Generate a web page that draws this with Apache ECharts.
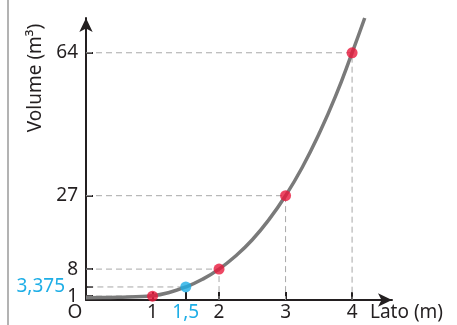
<!DOCTYPE html>
<html>
<head>
<meta charset="utf-8">
<script src="https://cdn.jsdelivr.net/npm/echarts@6/dist/echarts.min.js"></script>
<style>
  html, body { margin: 0; padding: 0; background: #ffffff; }
  #chart { width: 457px; height: 325px; }
</style>
</head>
<body>
<div id="chart"></div>
<script>
// Cube volume as a function of its side length
const curveSides   = [0, 0.25, 0.5, 0.75, 1, 1.25, 1.5, 1.75, 2, 2.25, 2.5, 2.75, 3, 3.25, 3.5, 3.75, 4, 4.19];
const curveVolumes = [0.6, 0.62, 0.7, 0.85, 1.1, 1.95, 3.375, 5.36, 8, 11.4, 15.6, 20.8, 27, 34.3, 42.9, 52.7, 64, 73];

// Marked points (side, volume); the highlighted one is drawn in blue
const pointSides   = [1, 1.5, 2, 3, 4];
const pointVolumes = [1, 3.375, 8, 27, 64];
const highlightSide = 1.5;

// Axis ticks
const xTickValues = [1, 1.5, 2, 3, 4];
const yTickValues = [1, 3.375, 8, 27, 64];

const TEXT = '#231f20';
const BLUE = '#1eaee6';
const RED = '#e8193c';
const FONT = 'Noto Sans';
const FS = 19;

const fmt = v => String(v).replace('.', ',');

const chart = echarts.init(document.getElementById('chart'), null, { renderer: 'canvas' });

// dashed guides from each point to both axes
const guideSeries = pointSides.map((s, i) => {
  const v = pointVolumes[i];
  const startX = s === highlightSide ? -0.28 : 0;
  const data = [[startX, v], [s, v]];
  if (s >= 2) data.push([s, 0]);
  return {
    type: 'line',
    data: data,
    symbol: 'none',
    clip: false,
    silent: true,
    z: 1,
    lineStyle: { color: '#a8a8a8', width: 1, type: [6, 4] }
  };
});

const option = {
  animation: false,
  grid: {
    left: 86, top: 18, width: 306, height: 282,
    outerBoundsMode: 'none', containLabel: false
  },
  xAxis: {
    type: 'value',
    min: 0, max: 4.6,
    name: 'Lato (m)',
    nameLocation: 'end',
    nameGap: -22,
    nameTextStyle: {
      color: TEXT, fontFamily: FONT, fontSize: FS,
      align: 'left', verticalAlign: 'top', padding: [3, 0, 0, 0]
    },
    axisLine: {
      show: true, onZero: false,
      symbol: ['none', 'arrow'], symbolSize: [10, 14],
      lineStyle: { color: TEXT, width: 2 }
    },
    axisTick: { show: true, inside: true, length: 8, customValues: xTickValues,
      lineStyle: { color: TEXT, width: 2 } },
    axisLabel: {
      customValues: [0].concat(xTickValues),
      margin: 3,
      color: TEXT, fontFamily: FONT, fontSize: FS,
      formatter: v => v === 0 ? '{o|O}' : (v === highlightSide ? '{b|' + fmt(v) + '}' : fmt(v)),
      rich: {
        o: { color: TEXT, fontFamily: FONT, fontSize: FS, padding: [0, 22, 0, 0] },
        b: { color: BLUE, fontFamily: FONT, fontSize: FS }
      }
    },
    splitLine: { show: false }
  },
  yAxis: {
    type: 'value',
    min: 0, max: 73,
    axisLine: {
      show: true, onZero: false,
      symbol: ['none', 'arrow'], symbolSize: [10, 14],
      lineStyle: { color: TEXT, width: 2 }
    },
    axisTick: { show: true, inside: true, length: 7, customValues: yTickValues,
      lineStyle: { color: TEXT, width: 2 } },
    axisLabel: {
      customValues: yTickValues,
      margin: 8,
      color: TEXT, fontFamily: FONT, fontSize: FS,
      formatter: v => v === 3.375 ? '{b|' + fmt(v) + '}' : fmt(v),
      rich: {
        b: { color: BLUE, fontFamily: FONT, fontSize: FS, padding: [0, 13, 0, 0] }
      }
    },
    splitLine: { show: false }
  },
  graphic: [
    {
      type: 'line', z: 0,
      shape: { x1: 8, y1: 0, x2: 8, y2: 325 },
      style: { stroke: '#9a9a9a', lineWidth: 1.5 }
    },
    {
      type: 'text', x: 36, y: 78, rotation: Math.PI / 2,
      style: {
        text: 'Volume (m³)', fill: TEXT,
        font: '19px "' + FONT + '"', align: 'center', verticalAlign: 'middle'
      }
    }
  ],
  series: guideSeries.concat([
    {
      type: 'line',
      data: curveSides.map((s, i) => [s, curveVolumes[i]]),
      symbol: 'none',
      smooth: true,
      z: 2,
      lineStyle: { color: '#7a7a7a', width: 3.5 }
    },
    {
      type: 'scatter',
      data: pointSides.map((s, i) => [s, pointVolumes[i]]),
      symbol: 'circle',
      symbolSize: 11,
      z: 3,
      itemStyle: {
        color: p => p.value[0] === highlightSide ? BLUE : RED
      }
    }
  ])
};

chart.setOption(option);
</script>
</body>
</html>
